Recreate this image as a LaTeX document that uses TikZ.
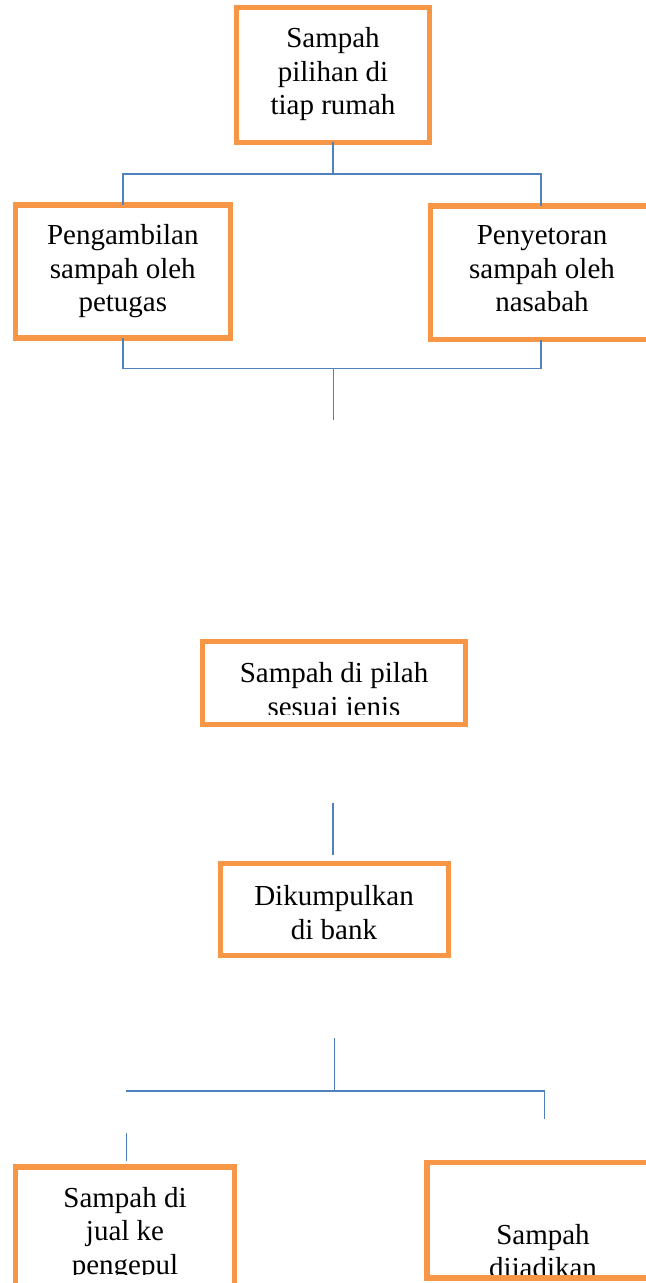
\documentclass[tikz,border=0pt]{standalone}
\usepackage{fontspec}
\setmainfont{Liberation Serif}
\usetikzlibrary{calc}
\definecolor{boxorange}{RGB}{247,150,70}
\definecolor{lineblue}{RGB}{79,129,189}

\begin{document}
\begin{tikzpicture}[x=0.5pt, y=-0.5pt,
    box/.style={draw=boxorange, line width=2.6pt, inner sep=0pt, outer sep=0pt},
    txt/.style={align=center, inner sep=0pt, anchor=north, text=black, font=\fontsize{14.5}{16.75}\selectfont},
    link/.style={draw=lineblue, line width=0.75pt}]
    \useasboundingbox (0, 0) rectangle (646, 1283);
    \coordinate (s1) at (333, 174);
    \coordinate (m1) at (333.7, 368.7);
    \coordinate (m2) at (333.7, 420);
    \coordinate (b1) at (333, 803);
    \coordinate (b2) at (333, 855);
    \coordinate (c1) at (334.6, 1038.3);
    \coordinate (c2) at (334.6, 1091);
    \coordinate (h1) at (125.7, 1091);
    \coordinate (h2) at (544.7, 1091);
    \coordinate (h3) at (544.7, 1119.3);
    \coordinate (j1) at (126.5, 1133.3);
    \coordinate (j2) at (126.5, 1160.7);
    \node [box, minimum width=96.5pt, minimum height=67.5pt] (rumah) at (333, 75) {};
    \node [box, minimum width=107.5pt, minimum height=66.5pt] (petugas) at (123, 271.5) {};
    \node [box, minimum width=110.3pt, minimum height=66.75pt] (nasabah) at (541, 272.75) {};
    \node [box, minimum width=131.65pt, minimum height=41.5pt] (pilah) at (334.2, 683.2) {};
    \node [box, minimum width=113.7pt, minimum height=45.85pt] (bank) at (334.5, 909.3) {};
    \node [box, minimum width=109.4pt, minimum height=70pt] (jual) at (125, 1237) {};
    \node [box, minimum width=116pt, minimum height=57.75pt] (jadi) at (543, 1220.25) {};
    \draw [link] (rumah.south) -- (s1);
    \draw [link] (petugas.north) |- (nasabah.north |- s1) -- (nasabah.north);
    \draw [link] (petugas.south) |- (nasabah.south |- m1) -- (nasabah.south);
    \draw [link] (m1) -- (m2);
    \draw [link] (b1) -- (b2);
    \draw [link] (c1) -- (c2);
    \draw [link] (h1) -- (h2) -- (h3);
    \draw [link] (j1) -- (j2);
    \node [txt] (t1) at (333, 27.2) {Sampah\\pilihan di\\tiap rumah};
    \node [txt] (t2) at (122.8, 224.2) {Pengambilan\\sampah oleh\\petugas};
    \node [txt] (t3) at (542, 225.2) {Penyetoran\\sampah oleh\\nasabah};
    \node [txt] (t5) at (334, 885.2) {Dikumpulkan\\di bank};
    \begin{scope}
        \clip (205, 644) rectangle (463, 714.5);
        \node [txt] (t4) at (334, 662.2) {Sampah di pilah\\sesuai jenis};
    \end{scope}
    \begin{scope}
        \clip (18, 1170) rectangle (232, 1274);
        \node [txt] (t6) at (125, 1186.9) {Sampah di\\jual ke\\pengepul};
    \end{scope}
    \begin{scope}
        \clip (430, 1165) rectangle (660, 1274);
        \node [txt] (t7) at (543, 1223.5) {Sampah\\dijadikan};
    \end{scope}
\end{tikzpicture}
\end{document}
